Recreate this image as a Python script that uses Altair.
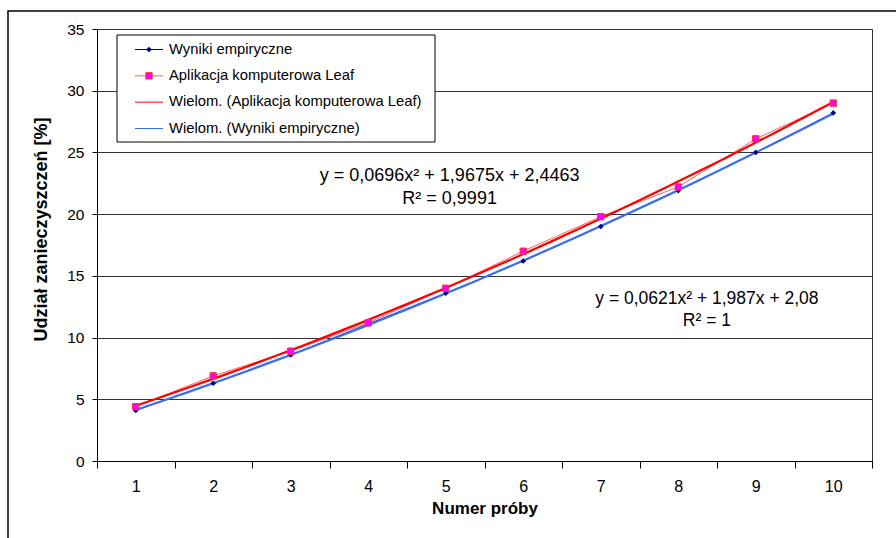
import altair as alt
import pandas as pd

proby = [1, 2, 3, 4, 5, 6, 7, 8, 9, 10]
wyniki_empiryczne = [4.1, 6.3, 8.6, 11.1, 13.6, 16.2, 19.0, 21.9, 25.0, 28.2]
aplikacja_leaf = [4.4, 6.9, 8.9, 11.2, 14.0, 17.0, 19.8, 22.2, 26.1, 29.0]
y_ticks = [0, 5, 10, 15, 20, 25, 30, 35]
band_edges = [0.5, 1.5, 2.5, 3.5, 4.5, 5.5, 6.5, 7.5, 8.5, 9.5, 10.5]

S_EMP = "Wyniki empiryczne"
S_LEAF = "Aplikacja komputerowa Leaf"
S_TLEAF = "Wielom. (Aplikacja komputerowa Leaf)"
S_TEMP = "Wielom. (Wyniki empiryczne)"
series_names = [S_EMP, S_LEAF, S_TLEAF, S_TEMP]
series_colors = ["#000080", "#FF6060", "#FF0000", "#3A6EF5"]
series_widths = [1, 1, 2.2, 2.2]

eq_leaf = ["y = 0,0696x² + 1,9675x + 2,4463", "R² = 0,9991"]
eq_emp = ["y = 0,0621x² + 1,987x + 2,08", "R² = 1"]

df = pd.DataFrame({
    "x": proby * 2,
    "y": wyniki_empiryczne + aplikacja_leaf,
    "series": [S_EMP] * 10 + [S_LEAF] * 10,
})

FONT = "Liberation Sans"
W, H = 775, 432

xscale = alt.Scale(domain=[0.5, 10.5], nice=False, zero=False)
yscale = alt.Scale(domain=[0, 35], nice=False)

xaxis = alt.Axis(
    values=band_edges, grid=False, tickSize=7, tickColor="black",
    domainColor="black", labelExpr="datum.value < 10 ? toString(datum.value + 0.5) : ''",
    labelOffset=W / 20, labelFont=FONT, labelFontSize=16, labelColor="black",
    labelPadding=10, labelOverlap=False, labelBound=False, labelFlush=False,
    title="Numer próby", titleFont=FONT, titleFontSize=17, titleFontWeight="bold",
    titleColor="black", titlePadding=6,
)
yaxis = alt.Axis(
    values=y_ticks, grid=True, gridColor="#333333", gridWidth=1,
    tickSize=5, tickColor="black", domainColor="black",
    labelFont=FONT, labelFontSize=15.5, labelColor="black", labelPadding=8,
    title="Udział zanieczyszczeń [%]", titleFont=FONT, titleFontSize=18,
    titleFontWeight="bold", titleColor="black", titlePadding=16, titleY=200,
)

base = alt.Chart(df)
X = alt.X("x:Q", scale=xscale, axis=xaxis)
Y = alt.Y("y:Q", scale=yscale, axis=yaxis)

emp = base.transform_filter(alt.datum.series == S_EMP)
leaf = base.transform_filter(alt.datum.series == S_LEAF)

emp_line = emp.mark_line(color=series_colors[0], strokeWidth=1).encode(x=X, y=Y)
emp_pts = emp.mark_point(shape="diamond", filled=True, color="#000080", size=32, opacity=1).encode(x=X, y=Y)
leaf_line = leaf.mark_line(color=series_colors[1], strokeWidth=1).encode(x=X, y=Y)
leaf_pts = leaf.mark_point(shape="square", filled=True, fill="#FF00FF", stroke="#FF3030",
                           strokeWidth=1, size=40, opacity=1).encode(x=X, y=Y)

trend_leaf = leaf.transform_regression("x", "y", method="poly", order=2, extent=[1, 10]).mark_line(
    color=series_colors[2], strokeWidth=series_widths[2]).encode(x=X, y=Y)
trend_emp = emp.transform_regression("x", "y", method="poly", order=2, extent=[1, 10]).mark_line(
    color=series_colors[3], strokeWidth=series_widths[3]).encode(x=X, y=Y)

def ann(t, xv, yv, fs):
    return alt.Chart(pd.DataFrame({"t": [t]})).mark_text(
        font=FONT, fontSize=fs, color="black", align="center", baseline="middle").encode(
        x=alt.datum(xv, scale=xscale), y=alt.datum(yv, scale=yscale), text="t:N")

ann1a = ann(eq_leaf[0], 5.05, 23.09, 18)
ann1b = ann(eq_leaf[1], 5.05, 21.19, 18)
ann2a = ann(eq_emp[0], 8.37, 13.12, 17.5)
ann2b = ann(eq_emp[1], 8.37, 11.34, 17.5)

# outer chart frame (decoration)
frame = alt.Chart(pd.DataFrame({"a": [0]})).mark_rect(
    fill=None, stroke="black", strokeWidth=1.5, clip=False).encode(
    x=alt.value(-89), x2=alt.value(W + 40), y=alt.value(-18), y2=alt.value(H + 100))

main = alt.layer(
    frame, emp_line, leaf_line, trend_leaf, trend_emp, emp_pts, leaf_pts,
    ann1a, ann1b, ann2a, ann2b,
)

# legend box, drawn with its own point scale for the rows
leg_df = pd.DataFrame({"series": series_names})
LY = alt.Y("series:N", scale=alt.Scale(domain=series_names, type="point", range=[20.5, 99.5], padding=0), axis=None)
leg_base = alt.Chart(leg_df)
leg_box = alt.Chart(pd.DataFrame({"a": [0]})).mark_rect(fill="white", stroke="black", strokeWidth=1).encode(
    x=alt.value(20), x2=alt.value(338), y=alt.value(6), y2=alt.value(113))
leg_lines = leg_base.mark_rule().encode(
    x=alt.value(38), x2=alt.value(66), y=LY,
    color=alt.Color("series:N", scale=alt.Scale(domain=series_names, range=series_colors), legend=None),
    strokeWidth=alt.StrokeWidth("series:N", scale=alt.Scale(domain=series_names, range=series_widths), legend=None),
)
leg_d = leg_base.transform_filter(alt.datum.series == S_EMP).mark_point(
    shape="diamond", filled=True, color="#000080", size=32, opacity=1).encode(x=alt.value(52), y=LY)
leg_s = leg_base.transform_filter(alt.datum.series == S_LEAF).mark_point(
    shape="square", filled=True, fill="#FF00FF", stroke="#FF3030", strokeWidth=1, size=40, opacity=1).encode(
    x=alt.value(52), y=LY)
leg_text = leg_base.mark_text(align="left", baseline="middle", font=FONT, fontSize=14.8, color="black").encode(
    x=alt.value(72), y=LY, text="series:N")
leg = alt.layer(leg_box, leg_lines, leg_d, leg_s, leg_text)

chart = alt.layer(main, leg).resolve_scale(
    y="independent", x="independent", color="independent", strokeWidth="independent"
).properties(
    width=W, height=H,
    autosize=alt.AutoSizeParams(type="none"),
    padding={"left": 97, "top": 29, "right": 896 - 97 - W, "bottom": 538 - 29 - H},
    background="white",
).configure_view(stroke="#333333", strokeWidth=1)

chart.save("out.html", embed_options={"renderer": "svg", "actions": False})
